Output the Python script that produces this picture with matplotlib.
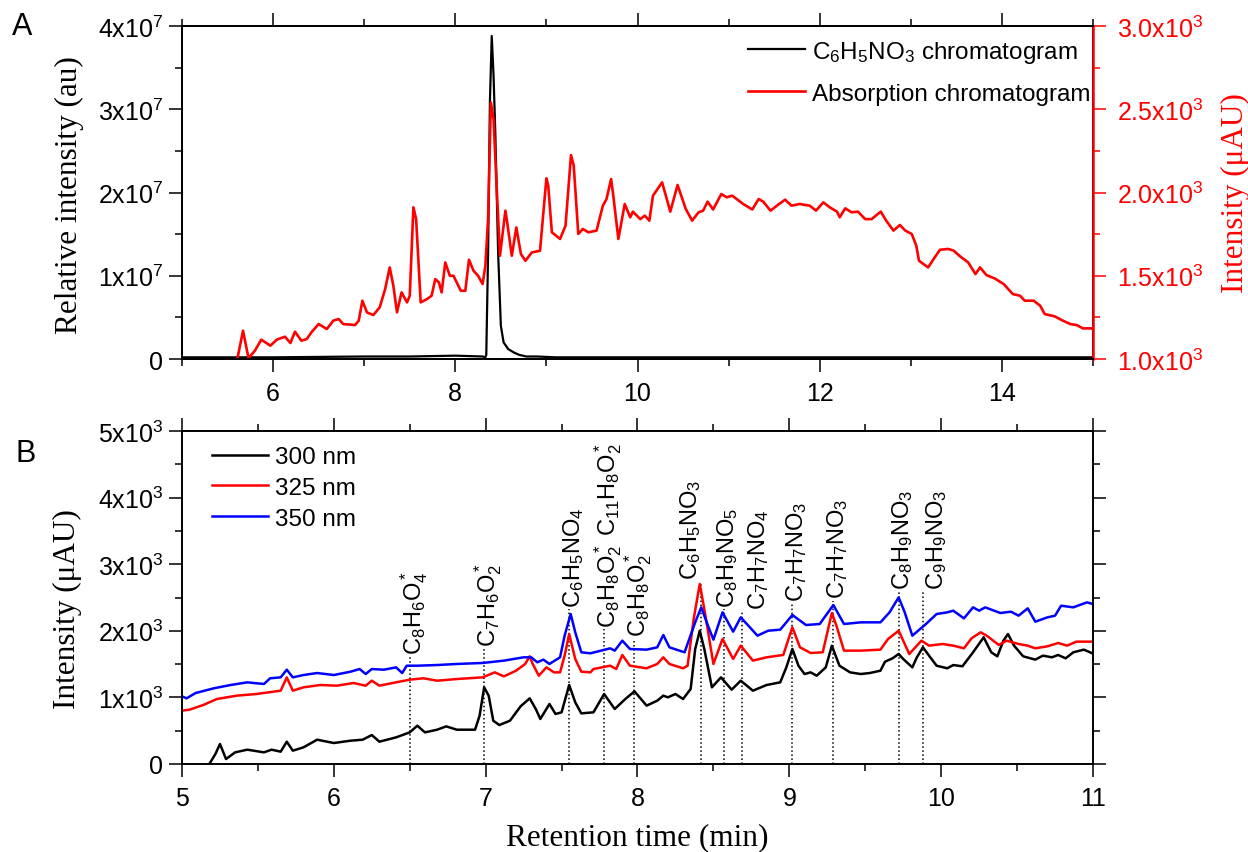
import matplotlib
matplotlib.use('Agg')
import matplotlib.pyplot as plt
from matplotlib.ticker import MultipleLocator, FuncFormatter
from matplotlib.transforms import offset_copy

plt.rcParams['font.family'] = ['Liberation Sans', 'DejaVu Sans']
plt.rcParams['mathtext.fontset'] = 'custom'
plt.rcParams['mathtext.rm'] = 'Liberation Sans'
plt.rcParams['mathtext.it'] = 'Liberation Sans:italic'
plt.rcParams['mathtext.bf'] = 'Liberation Sans:bold'
plt.rcParams['mathtext.default'] = 'regular'

# ---------------- Panel A data ----------------
a_black_x = [5.0, 6.0, 7.0, 7.5, 8.0, 8.30, 8.33, 8.34, 8.36, 8.38, 8.40, 8.42, 8.44, 8.47,
             8.50, 8.53, 8.58, 8.64, 8.70, 8.78, 8.90, 9.1, 9.5, 10, 11, 12, 13, 14, 15]
a_black_y = [0.02, 0.02, 0.03, 0.03, 0.04, 0.03, 0.02, 0.05, 1.28, 3.09, 3.88, 3.40, 2.68, 1.28,
             0.40, 0.20, 0.12, 0.08, 0.05, 0.03, 0.03, 0.02, 0.02, 0.02, 0.02, 0.02, 0.02, 0.02, 0.02]
a_black_y = [v * 1e7 for v in a_black_y]

a_red_x = [5.60, 5.67, 5.73, 5.80, 5.87, 5.97, 6.04, 6.13, 6.19, 6.24, 6.31, 6.37, 6.42, 6.50,
           6.59, 6.66, 6.72, 6.77, 6.90, 6.94, 6.98, 7.03, 7.10, 7.17, 7.23, 7.28, 7.32, 7.36,
           7.41, 7.47, 7.50, 7.54, 7.57, 7.62, 7.69, 7.74, 7.78, 7.82, 7.85, 7.89, 7.94, 7.98,
           8.06, 8.11, 8.15, 8.20, 8.25, 8.30, 8.33, 8.36, 8.39, 8.42, 8.45, 8.49, 8.55, 8.57,
           8.62, 8.67, 8.72, 8.77, 8.84, 8.93, 9.00, 9.02, 9.06, 9.15, 9.21, 9.27, 9.30, 9.35,
           9.40, 9.46, 9.55, 9.62, 9.66, 9.71, 9.73, 9.79, 9.86, 9.92, 9.95, 10.03, 10.08, 10.13,
           10.17, 10.27, 10.36, 10.44, 10.48, 10.53, 10.60, 10.67, 10.72, 10.77, 10.83, 10.92,
           10.98, 11.04, 11.16, 11.26, 11.33, 11.38, 11.46, 11.53, 11.62, 11.69, 11.78, 11.89,
           11.96, 12.04, 12.11, 12.19, 12.22, 12.28, 12.35, 12.42, 12.50, 12.57, 12.67, 12.73,
           12.81, 12.88, 12.94, 13.01, 13.06, 13.09, 13.19, 13.25, 13.32, 13.41, 13.47, 13.54,
           13.63, 13.71, 13.76, 13.83, 13.92, 14.02, 14.12, 14.20, 14.25, 14.35, 14.42, 14.47,
           14.58, 14.67, 14.75, 14.82, 14.89, 14.98, 15.0]
a_red_y = [980, 1170, 1005, 1050, 1116, 1080, 1116, 1134, 1096, 1164, 1110, 1120, 1160, 1210,
           1180, 1230, 1240, 1210, 1204, 1230, 1350, 1280, 1264, 1310, 1420, 1550, 1440, 1280,
           1400, 1340, 1380, 1911, 1840, 1340, 1360, 1380, 1480, 1460, 1400, 1580, 1500, 1500,
           1410, 1410, 1596, 1530, 1500, 1450, 1560, 1840, 2541, 2441, 2081, 1620, 1891, 1820,
           1620, 1790, 1631, 1590, 1640, 1650, 2085, 2041, 1761, 1721, 1801, 2225, 2161, 1751,
           1781, 1761, 1771, 1921, 1961, 2081, 2001, 1721, 1931, 1851, 1885, 1840, 1861, 1831,
           1981, 2061, 1885, 2045, 1981, 1901, 1831, 1881, 1891, 1945, 1898, 1991,
           1971, 1981, 1931, 1898, 1961, 1945, 1891, 1921, 1957, 1921, 1931, 1921,
           1891, 1941, 1911, 1885, 1851, 1905, 1881, 1885, 1840, 1840, 1885, 1831,
           1771, 1805, 1771, 1751, 1681, 1590, 1550, 1600, 1656, 1661, 1651, 1617,
           1580, 1510, 1550, 1504, 1484, 1450, 1390, 1380, 1350, 1350, 1320, 1270,
           1256, 1230, 1210, 1204, 1184, 1184, 1180]

# ---------------- Panel B data ----------------
b300_x = [5.18, 5.22, 5.25, 5.29, 5.35, 5.43, 5.54, 5.59, 5.65, 5.69, 5.73, 5.80, 5.89, 6.00,
          6.11, 6.19, 6.25, 6.30, 6.41, 6.50, 6.55, 6.60, 6.68, 6.74, 6.81, 6.93, 6.96, 6.99,
          7.02, 7.05, 7.09, 7.16, 7.23, 7.29, 7.33, 7.36, 7.42, 7.46, 7.50, 7.55, 7.59, 7.63,
          7.71, 7.78, 7.85, 7.92, 7.98, 8.06, 8.13, 8.17, 8.20, 8.25, 8.30, 8.35, 8.38, 8.41,
          8.44, 8.49, 8.55, 8.62, 8.68, 8.76, 8.85, 8.94, 8.98, 9.02, 9.06, 9.10, 9.14, 9.18,
          9.24, 9.28, 9.33, 9.40, 9.47, 9.53, 9.60, 9.63, 9.68, 9.72, 9.75, 9.81, 9.84, 9.88,
          9.92, 9.97, 10.04, 10.08, 10.14, 10.21, 10.28, 10.33, 10.37, 10.41, 10.44, 10.48,
          10.54, 10.62, 10.67, 10.73, 10.77, 10.82, 10.87, 10.94, 10.99, 11.0]
b300_y = [0, 150, 300, 75, 175, 215, 175, 215, 185, 335, 200, 250, 365, 315,
          350, 365, 435, 335, 400, 475, 575, 475, 515, 565, 515, 515, 725, 1150,
          1025, 650, 585, 650, 866, 986, 826, 676, 901, 751, 776, 1186, 926, 760,
          776, 1051, 826, 976, 1091, 876, 951, 1026, 1001, 1051, 976, 1126, 1727, 2001,
          1727, 1151, 1301, 1116, 1251, 1101, 1186, 1226, 1450, 1727, 1476, 1351, 1376, 1326,
          1451, 1776, 1476, 1376, 1351, 1366, 1401, 1536, 1587, 1652, 1577, 1451, 1602, 1752,
          1627, 1476, 1437, 1486, 1467, 1677, 1902, 1677, 1617, 1852, 1952, 1777,
          1617, 1567, 1627, 1602, 1637, 1587, 1677, 1717, 1667, 1660]

b325_x = [5.00, 5.05, 5.14, 5.23, 5.36, 5.49, 5.57, 5.65, 5.69, 5.73, 5.80, 5.91, 6.02, 6.13,
          6.21, 6.25, 6.30, 6.41, 6.50, 6.59, 6.68, 6.81, 6.98, 7.06, 7.12, 7.20, 7.26, 7.29,
          7.31, 7.35, 7.40, 7.45, 7.49, 7.52, 7.55, 7.59, 7.63, 7.69, 7.71, 7.82, 7.86, 7.90,
          7.95, 8.06, 8.13, 8.17, 8.21, 8.30, 8.33, 8.37, 8.41, 8.44, 8.50, 8.56, 8.63, 8.68,
          8.76, 8.85, 8.96, 9.02, 9.07, 9.14, 9.22, 9.28, 9.31, 9.36, 9.47, 9.60, 9.65, 9.72,
          9.79, 9.87, 9.92, 10.01, 10.08, 10.15, 10.20, 10.26, 10.30, 10.38, 10.43, 10.51,
          10.57, 10.62, 10.70, 10.77, 10.83, 10.89, 10.99, 11.0]
b325_y = [801, 816, 886, 976, 1026, 1051, 1076, 1101, 1301, 1101, 1151, 1186, 1176, 1216,
          1176, 1251, 1176, 1226, 1266, 1287, 1251, 1276, 1301, 1376, 1316, 1401, 1502, 1617,
          1502, 1326, 1451, 1376, 1376, 1627, 1952, 1577, 1386, 1376, 1426, 1476, 1426, 1637,
          1476, 1437, 1502, 1602, 1502, 1437, 1476, 2177, 2703, 2327, 1502, 1877, 1577, 1777,
          1552, 1602, 1637, 2053, 1752, 1667, 1677, 2267, 2077, 1702, 1702, 1717, 1877, 2001,
          1652, 1852, 1777, 1802, 1777, 1737, 1887, 1977, 1927, 1787, 1852, 1802,
          1777, 1737, 1767, 1817, 1777, 1837, 1837, 1837]

b350_x = [5.00, 5.03, 5.09, 5.21, 5.32, 5.43, 5.54, 5.58, 5.65, 5.69, 5.73, 5.80, 5.89, 6.00,
          6.11, 6.17, 6.21, 6.25, 6.33, 6.41, 6.45, 6.48, 6.55, 6.68, 6.81, 6.98, 7.12, 7.25,
          7.30, 7.34, 7.38, 7.42, 7.49, 7.52, 7.56, 7.59, 7.63, 7.69, 7.82, 7.85, 7.90, 7.95,
          8.06, 8.13, 8.17, 8.21, 8.31, 8.38, 8.42, 8.46, 8.50, 8.56, 8.63, 8.68, 8.79, 8.86,
          8.94, 9.02, 9.11, 9.20, 9.29, 9.36, 9.47, 9.60, 9.66, 9.72, 9.76, 9.81, 9.90, 9.97,
          10.04, 10.08, 10.15, 10.21, 10.25, 10.29, 10.39, 10.46, 10.51, 10.57, 10.62, 10.70,
          10.75, 10.79, 10.87, 10.96, 11.0]
b350_y = [1016, 986, 1066, 1137, 1186, 1226, 1201, 1287, 1301, 1416, 1301, 1336, 1366, 1336,
          1386, 1426, 1351, 1426, 1416, 1451, 1366, 1476, 1476, 1486, 1502, 1517, 1552, 1602,
          1602, 1527, 1567, 1502, 1602, 1927, 2252, 1977, 1677, 1662, 1737, 1702, 1852, 1727,
          1717, 1752, 1937, 1752, 1677, 2127, 2352, 2102, 1867, 2277, 1987, 2202, 1927, 2001,
          2017, 2237, 2087, 2102, 2387, 2102, 2127, 2127, 2277, 2502, 2277, 1927, 2102, 2252,
          2277, 2302, 2187, 2352, 2302, 2352, 2267, 2287, 2227, 2337, 2137, 2202,
          2227, 2377, 2352, 2427, 2402]

ann_x = [6.50, 6.99, 7.55, 7.78, 7.98, 8.42, 8.57, 8.69, 9.02, 9.29, 9.72, 9.88]
ann_y = [1650, 1770, 2360, 2060, 1920, 2780, 2360, 2330, 2450, 2490, 2630, 2630]
ann_labels = ['C$_8$H$_6$O$_4^*$', 'C$_7$H$_6$O$_2^*$', 'C$_6$H$_5$NO$_4$',
              'C$_8$H$_8$O$_2^*$ C$_{11}$H$_8$O$_2^*$', 'C$_8$H$_8$O$_2^*$', 'C$_6$H$_5$NO$_3$',
              'C$_8$H$_9$NO$_5$', 'C$_7$H$_7$NO$_4$', 'C$_7$H$_7$NO$_3$', 'C$_7$H$_7$NO$_3$',
              'C$_8$H$_9$NO$_3$', 'C$_9$H$_9$NO$_3$']

# label nudges (pixels, layout only)
ann_dx_px = [4, 4, 4, 4, 4, -11, 4, 16, 4, 4, 4, 14]

# ---------------- Figure ----------------
W, H = 1248, 853
fig = plt.figure(figsize=(W / 100, H / 100), dpi=100)
axA = fig.add_axes([182 / W, 1 - 360 / H, 911 / W, 333 / H])
axB = fig.add_axes([182 / W, 1 - 765 / H, 911 / W, 333 / H])

serif = ['Liberation Serif', 'DejaVu Serif']
XT, YT = 18, 18
LAB = 22.5


def style_ticks(ax, color='black'):
    ax.tick_params(which='major', direction='out', length=9.5, width=1.1, color=color)
    ax.tick_params(which='minor', direction='out', length=5, width=1.1, color=color)


for ax in (axA, axB):
    for s in ax.spines.values():
        s.set_linewidth(1.4)
    style_ticks(ax)
    ax.tick_params(axis='x', which='both', top=True, labelsize=XT, pad=6)
    ax.tick_params(axis='y', labelsize=YT, pad=4)

# Panel A
lA1, = axA.plot(a_black_x, a_black_y, color='black', lw=1.6,
                label='C$_6$H$_5$NO$_3$ chromatogram')
axA.set_xlim(5, 15)
axA.set_ylim(0, 4e7)
axA.xaxis.set_major_locator(MultipleLocator(2))
axA.xaxis.set_minor_locator(MultipleLocator(1))
axA.yaxis.set_major_locator(MultipleLocator(1e7))
axA.yaxis.set_minor_locator(MultipleLocator(0.5e7))
axA.yaxis.set_major_formatter(FuncFormatter(
    lambda v, p: '0' if abs(v) < 1 else '%dx10$^7$' % round(v / 1e7)))

axA2 = axA.twinx()
lA2, = axA2.plot(a_red_x, a_red_y, color='red', lw=1.9, label='Absorption chromatogram')
axA2.set_ylim(1000, 3000)
axA2.set_xlim(5, 15)
axA2.yaxis.set_major_locator(MultipleLocator(500))
axA2.yaxis.set_minor_locator(MultipleLocator(250))
axA2.yaxis.set_major_formatter(FuncFormatter(lambda v, p: '%.1fx10$^3$' % (v / 1e3)))
style_ticks(axA2, 'red')
axA2.tick_params(axis='y', labelsize=YT, labelcolor='red', pad=8)
for s in axA2.spines.values():
    s.set_linewidth(1.4)
axA2.spines['right'].set_color('red')
axA2.spines['right'].set_linewidth(1.8)

axA.legend(handles=[lA1, lA2], loc='upper left', frameon=False, fontsize=17.5,
           bbox_to_anchor=(748 / W, 1 - 40 / H), bbox_transform=fig.transFigure,
           borderaxespad=0, borderpad=0, handlelength=2.35, handletextpad=0.3,
           labelspacing=0.72)

# Panel B
lb1, = axB.plot(b300_x, b300_y, color='black', lw=1.8, label='300 nm')
lb2, = axB.plot(b325_x, b325_y, color='red', lw=1.8, label='325 nm')
lb3, = axB.plot(b350_x, b350_y, color='blue', lw=1.8, label='350 nm')
axB.set_xlim(5, 11)
axB.set_ylim(0, 5000)
axB.xaxis.set_major_locator(MultipleLocator(1))
axB.xaxis.set_minor_locator(MultipleLocator(0.5))
axB.yaxis.set_major_locator(MultipleLocator(1000))
axB.yaxis.set_minor_locator(MultipleLocator(500))
axB.yaxis.set_major_formatter(FuncFormatter(
    lambda v, p: '0' if abs(v) < 1 else '%dx10$^3$' % round(v / 1e3)))
axB.tick_params(axis='y', which='both', right=True)

for x, y, lab, dx in zip(ann_x, ann_y, ann_labels, ann_dx_px):
    axB.vlines(x, 0, y - 40, colors='black', linestyles=':', lw=1.1, zorder=1)
    tr = offset_copy(axB.transData, fig=fig, x=dx * 0.72, y=0, units='points')
    axB.text(x, y, lab, rotation=90, ha='center', va='bottom', fontsize=17, transform=tr)

axB.legend(handles=[lb1, lb2, lb3], loc='upper left', frameon=False, fontsize=17.5,
           bbox_to_anchor=(212 / W, 1 - 447 / H), bbox_transform=fig.transFigure,
           borderaxespad=0, borderpad=0, handlelength=2.3, handletextpad=0.3,
           labelspacing=0.36)

# Labels
fig.text(69 / W, 1 - 195 / H, 'Relative intensity (au)', rotation=90, ha='center',
         va='center', fontsize=LAB, family=serif)
fig.text(1235 / W, 1 - 193 / H, 'Intensity (\u03bcAU)', rotation=90, ha='center',
         va='center', fontsize=LAB, family=serif, color='red')
fig.text(67 / W, 1 - 609 / H, 'Intensity (\u03bcAU)', rotation=90, ha='center',
         va='center', fontsize=LAB, family=serif)
fig.text(637 / W, 1 - 838 / H, 'Retention time (min)', ha='center', va='center',
         fontsize=LAB, family=serif)
fig.text(12 / W, 1 - 12 / H, 'A', ha='left', va='top', fontsize=22)
fig.text(15 / W, 1 - 439 / H, 'B', ha='left', va='top', fontsize=22)

fig.savefig('out.png', dpi=100)
